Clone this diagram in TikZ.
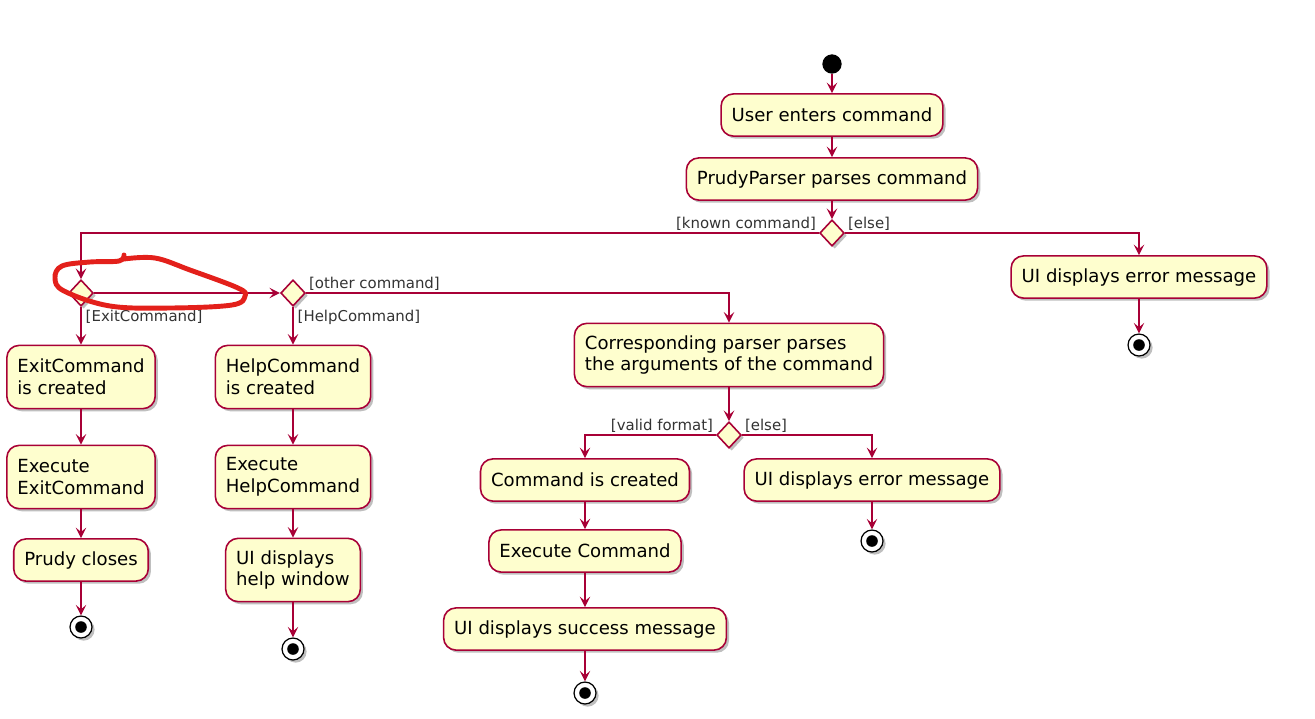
\documentclass[tikz,border=0pt]{standalone}
\usepackage{fontspec}
\setmainfont{DejaVu Sans}
\usetikzlibrary{arrows.meta,positioning,shapes.geometric,shadows}
\definecolor{umlFill}{HTML}{FEFECE}
\definecolor{umlLine}{HTML}{A80036}
\definecolor{umlMark}{HTML}{E3201B}

\begin{document}
\begin{tikzpicture}[x=0.02cm, y=-0.02cm,
      act/.style={draw=umlLine, line width=0.9pt, rounded corners=7pt, fill=umlFill,
        align=left, font=\fontsize{10.3}{12.5}\selectfont, inner xsep=6pt, inner ysep=4pt,
        minimum height=24pt,
        drop shadow={shadow xshift=1.5pt, shadow yshift=-1.5pt, fill=black, opacity=0.25}},
      act2/.style={act, minimum height=36pt},
      dec/.style={diamond, draw=umlLine, line width=0.9pt, fill=umlFill, inner sep=0pt,
        minimum width=14pt, minimum height=15pt,
        drop shadow={shadow xshift=1.5pt, shadow yshift=-1.5pt, fill=black, opacity=0.25}},
      begin/.style={circle, fill=black, minimum size=11pt, inner sep=0pt},
      fin/.style={circle, draw=black, fill=white, line width=0.7pt, minimum size=12.5pt, inner sep=0pt,
        drop shadow={shadow xshift=1.5pt, shadow yshift=-1.5pt, fill=black, opacity=0.25},
        path picture={\fill[black] (path picture bounding box.center) circle (3.3pt);}},
      lbl/.style={font=\fontsize{8.5}{10}\selectfont, text=black!80, inner sep=1.5pt},
      arr/.style={-{Stealth[length=6pt, width=6pt, inset=2.5pt]}, draw=umlLine, line width=0.8pt}]
    \useasboundingbox (0,0) rectangle (1315,718);
    \node[begin] (s) at (832,64) {};
    \node[act] (enter) at (832,115) {User enters command};
    \node[act] (parse) at (832,179) {PrudyParser parses command};
    \node[dec] (known) at (832,233) {};
    \node[act] (err) at (1139,277) {UI displays error message};
    \node[fin] (e1) at (1139,345) {};
    \node[dec] (exit) at (81,293) {};
    \node[dec] (help) at (293,293) {};
    \node[act2] (exitnew) at (81,377) {ExitCommand\\is created};
    \node[act2] (exitrun) at (81,477) {Execute\\ExitCommand};
    \node[act] (close) at (81,560) {Prudy closes};
    \node[fin] (e2) at (81,627) {};
    \node[act2] (helpnew) at (293,377) {HelpCommand\\is created};
    \node[act2] (helprun) at (293,477) {Execute\\HelpCommand};
    \node[act2] (helpwin) at (293,570) {UI displays\\help window};
    \node[fin] (e3) at (293,649) {};
    \node[act2] (args) at (729,355) {Corresponding parser parses\\the arguments of the command};
    \node[dec] (valid) at (729,435) {};
    \node[act] (cmdnew) at (585,480) {Command is created};
    \node[act] (bad) at (872,480) {UI displays error message};
    \node[fin] (e4) at (872,541) {};
    \node[act] (cmdrun) at (585,551) {Execute Command};
    \node[act] (ok) at (585,629) {UI displays success message};
    \node[fin] (e5) at (585,693) {};
    \node[lbl, anchor=south east] (lknown) at (known.west) {[known command]};
    \node[lbl, anchor=south west] (lelse) at (known.east) {[else]};
    \node[lbl, anchor=north west] (lexit) at ([xshift=1pt]exit.south) {[ExitCommand]};
    \node[lbl, anchor=north west] (lhelp) at ([xshift=1pt]help.south) {[HelpCommand]};
    \node[lbl, anchor=south west] (lother) at (help.east) {[other command]};
    \node[lbl, anchor=south east] (lvalid) at (valid.west) {[valid format]};
    \node[lbl, anchor=south west] (lbad) at (valid.east) {[else]};
    \draw[arr] (s) -- (enter);
    \draw[arr] (enter) -- (parse);
    \draw[arr] (parse) -- (known);
    \draw[arr] (known.west) -| (exit.north);
    \draw[arr] (known.east) -| (err.north);
    \draw[arr] (err) -- (e1);
    \draw[arr] (exit.east) -- (help.west);
    \draw[arr] (exit.south) -- (exitnew.north);
    \draw[arr] (exitnew) -- (exitrun);
    \draw[arr] (exitrun) -- (close);
    \draw[arr] (close) -- (e2);
    \draw[arr] (help.south) -- (helpnew.north);
    \draw[arr] (helpnew) -- (helprun);
    \draw[arr] (helprun) -- (helpwin);
    \draw[arr] (helpwin) -- (e3);
    \draw[arr] (help.east) -| (args.north);
    \draw[arr] (args) -- (valid);
    \draw[arr] (valid.west) -| (cmdnew.north);
    \draw[arr] (valid.east) -| (bad.north);
    \draw[arr] (bad) -- (e4);
    \draw[arr] (cmdnew) -- (cmdrun);
    \draw[arr] (cmdrun) -- (ok);
    \draw[arr] (ok) -- (e5);
    \draw[umlMark, line width=2.8pt, line cap=round, line join=round] plot[smooth, tension=0.6]
      coordinates {(124,255) (119,261) (90,262) (62,266) (55,278) (64,291) (110,306) (170,308)
        (232,305) (245,296) (238,288) (190,270) (155,258) (124,259)};
  \end{tikzpicture}
\end{document}
